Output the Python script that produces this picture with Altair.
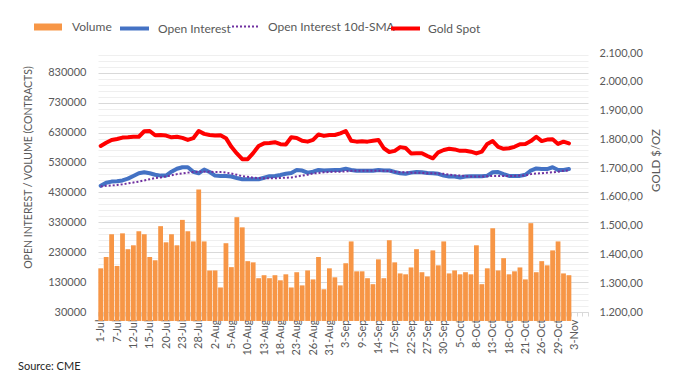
import altair as alt
import pandas as pd

# Category labels (trading days), last three have no data
dates = [
    "1-Jul", "2-Jul", "6-Jul", "7-Jul", "8-Jul", "9-Jul", "12-Jul", "13-Jul", "14-Jul", "15-Jul",
    "16-Jul", "19-Jul", "20-Jul", "21-Jul", "22-Jul", "23-Jul", "26-Jul", "27-Jul", "28-Jul", "29-Jul",
    "30-Jul", "2-Aug", "3-Aug", "4-Aug", "5-Aug", "6-Aug", "9-Aug", "10-Aug", "11-Aug", "12-Aug",
    "13-Aug", "16-Aug", "17-Aug", "18-Aug", "19-Aug", "20-Aug", "23-Aug", "24-Aug", "25-Aug", "26-Aug",
    "27-Aug", "30-Aug", "31-Aug", "1-Sep", "2-Sep", "3-Sep", "7-Sep", "8-Sep", "9-Sep", "10-Sep",
    "13-Sep", "14-Sep", "15-Sep", "16-Sep", "17-Sep", "20-Sep", "21-Sep", "22-Sep", "23-Sep", "24-Sep",
    "27-Sep", "28-Sep", "29-Sep", "30-Sep", "1-Oct", "4-Oct", "5-Oct", "6-Oct", "7-Oct", "8-Oct",
    "11-Oct", "12-Oct", "13-Oct", "14-Oct", "15-Oct", "18-Oct", "19-Oct", "20-Oct", "21-Oct", "22-Oct",
    "25-Oct", "26-Oct", "27-Oct", "28-Oct", "29-Oct", "1-Nov", "2-Nov", "3-Nov", "4-Nov", "5-Nov",
]

volume = [
    176000, 214000, 290000, 184000, 293000, 240000, 253000, 300000, 290000, 214000,
    203000, 317000, 263000, 290000, 253000, 338000, 300000, 266000, 440000, 266000,
    169000, 169000, 112000, 260000, 180000, 347000, 313000, 200000, 196000, 143000,
    153000, 143000, 153000, 136000, 156000, 112000, 163000, 119000, 169000, 139000,
    214000, 106000, 176000, 146000, 119000, 193000, 266000, 166000, 166000, 143000,
    123000, 206000, 143000, 270000, 196000, 159000, 156000, 179000, 240000, 163000,
    149000, 236000, 186000, 266000, 159000, 169000, 156000, 163000, 156000, 253000,
    123000, 176000, 310000, 169000, 210000, 156000, 166000, 179000, 139000, 327000,
    163000, 200000, 186000, 236000, 266000, 159000, 153000,
]

open_interest = [
    452000, 462000, 466000, 467000, 470000, 476000, 485000, 494000, 497000, 494000,
    489000, 486000, 486000, 499000, 509000, 514000, 514000, 499000, 494000, 506000,
    498000, 486000, 485000, 485000, 483000, 478000, 474000, 474000, 474000, 474000,
    479000, 484000, 485000, 488000, 492000, 495000, 505000, 503000, 496000, 499000,
    505000, 503000, 504000, 505000, 505000, 509000, 505000, 502000, 502000, 502000,
    502000, 505000, 503000, 503000, 498000, 494000, 492000, 496000, 498000, 497000,
    495000, 494000, 492000, 486000, 483000, 483000, 480000, 483000, 484000, 484000,
    484000, 486000, 497000, 498000, 491000, 485000, 485000, 485000, 489000, 503000,
    510000, 508000, 508000, 514000, 505000, 505000, 508000,
]

oi_sma = [
    450000, 452000, 453000, 455000, 457000, 460000, 463000, 466000, 470000, 474000,
    478000, 480000, 483000, 487000, 491000, 493000, 496000, 498000, 499000, 499000,
    499000, 498000, 498000, 496000, 493000, 489000, 484000, 482000, 479000, 478000,
    477000, 477000, 477000, 478000, 479000, 480000, 483000, 486000, 489000, 493000,
    495000, 497000, 498000, 499000, 499000, 500000, 502000, 502000, 502000, 502000,
    502000, 502000, 502000, 501000, 499000, 497000, 497000, 496000, 496000, 495000,
    494000, 494000, 493000, 492000, 489000, 487000, 486000, 484000, 483000, 483000,
    483000, 484000, 485000, 485000, 485000, 485000, 485000, 486000, 487000, 491000,
    493000, 494000, 496000, 497000, 499000, 502000, 503000,
]

gold = [
    1777, 1788, 1798, 1801, 1806, 1807, 1809, 1809, 1828, 1829,
    1814, 1815, 1813, 1807, 1809, 1805, 1798, 1804, 1829, 1819,
    1815, 1813, 1814, 1804, 1774, 1751, 1731, 1731, 1752, 1777,
    1786, 1787, 1790, 1783, 1782, 1807, 1805, 1795, 1792, 1798,
    1817, 1812, 1815, 1815, 1821, 1829, 1795, 1792, 1793, 1792,
    1795, 1798, 1769, 1756, 1760, 1773, 1770, 1751, 1752, 1752,
    1742, 1734, 1755, 1763, 1767, 1765, 1760, 1760, 1757, 1751,
    1757, 1784, 1794, 1774, 1767, 1769, 1774, 1783, 1784, 1794,
    1809, 1794, 1799, 1800, 1784, 1792, 1786,
]

series_names = ["Volume", "Open Interest", "Open Interest 10d-SMA", "Gold Spot"]

left_ticks = list(range(30000, 896001, 20000))
right_ticks = list(range(1200, 2101, 100))

n_data = len(volume)
df = pd.DataFrame({
    "date": dates[:n_data],
    "volume": volume,
    "oi": open_interest,
    "sma": oi_sma,
    "gold": gold,
})

ORANGE = "#F79646"
BLUE = "#4472C4"
PURPLE = "#7030A0"
RED = "#FF0000"
TXT = "#595959"
FONT = "Lato"

n_cat = len(dates)
x_axis = alt.Axis(
    title=None, labelAngle=270, labelAlign="right", labelBaseline="middle",
    labelExpr=f"round(datum.index * {n_cat - 1}) % 3 == 0 ? datum.label : ''",
    labelOverlap=False, labelFontSize=11, labelColor=TXT, labelFont=FONT,
    labelPadding=3, tickBand="extent", tickSize=4, tickColor="#d9d9d9",
    domainColor="#d9d9d9", grid=False,
)
x_enc = alt.X("date:N", sort=None,
              scale=alt.Scale(domain=dates, paddingInner=0.12, paddingOuter=0.06),
              axis=x_axis)

left_scale = alt.Scale(domain=[30000, 896000], nice=False, zero=False)
left_axis = alt.Axis(
    values=left_ticks,
    labelExpr="(datum.value - 30000) % 100000 == 0 ? '' + datum.value : ''",
    labelFontSize=11, labelColor=TXT, labelFont=FONT, labelPadding=12,
    ticks=False, domain=False, grid=True,
    gridColor={"condition": {"test": "(datum.value - 30000) % 100000 == 0", "value": "#d9d9d9"},
               "value": "#efefef"},
    gridWidth=1,
    title="OPEN INTEREST / VOLUME (CONTRACTS)", titleFontSize=10.5, titleFont=FONT,
    titleColor=TXT, titleFontWeight="normal", titleAngle=270,
    titleX=-70, titleY=114, titleAlign="center", titleBaseline="middle",
)

right_scale = alt.Scale(domain=[1200, 2100], nice=False, zero=False)
right_axis = alt.Axis(
    orient="right", values=right_ticks,
    labelExpr="replace(replace(replace(format(datum.value, ',.2f'), ',', '#'), '.', ','), '#', '.')",
    labelFontSize=11, labelColor=TXT, labelFont=FONT, labelPadding=11,
    ticks=False, domain=False, grid=False,
    title="GOLD $/OZ", titleFontSize=11.5, titleFont=FONT, titleColor=TXT,
    titleFontWeight="normal", titleAngle=270, titleX=68, titleY=107,
    titleAlign="center", titleBaseline="middle",
)


def legend(x, sym, size, stroke_w=None, dash=None, offset=10):
    kw = dict(orient="none", legendX=x, legendY=-41, title=None, symbolType=sym,
              symbolSize=size, labelFontSize=12, labelFont=FONT, labelColor=TXT,
              labelOffset=offset, padding=0)
    if stroke_w is not None:
        kw["symbolStrokeWidth"] = stroke_w
    if dash is not None:
        kw["symbolDash"] = dash
    return alt.Legend(**kw)


def series_color(name, color, leg):
    return alt.Color("series:N", scale=alt.Scale(domain=[name], range=[color]), legend=leg)


base = alt.Chart(df)

bars = base.mark_bar().transform_calculate(series=f"'{series_names[0]}'").encode(
    x=x_enc,
    y=alt.Y("volume:Q", scale=left_scale, axis=left_axis),
    color=series_color(series_names[0], ORANGE, legend(-65, "M-1,-0.25H1V0.25H-1Z", 784, offset=9)),
)

oi_line = base.mark_line(strokeWidth=4, strokeCap="round", strokeJoin="round").transform_calculate(
    series=f"'{series_names[1]}'").encode(
    x=x_enc,
    y=alt.Y("oi:Q", scale=left_scale, axis=left_axis),
    color=series_color(series_names[1], BLUE, legend(20, "stroke", 841, stroke_w=4, offset=7)),
)

sma_line = base.mark_line(strokeWidth=2, strokeDash=[2, 2]).transform_calculate(
    series=f"'{series_names[2]}'").encode(
    x=x_enc,
    y=alt.Y("sma:Q", scale=left_scale, axis=left_axis),
    color=series_color(series_names[2], PURPLE,
                       legend(133, "stroke", 729, stroke_w=2, dash=[2, 2], offset=8)),
)

gold_line = base.mark_line(strokeWidth=4, strokeCap="round", strokeJoin="round").transform_calculate(
    series=f"'{series_names[3]}'").encode(
    x=x_enc,
    y=alt.Y("gold:Q", scale=right_scale, axis=right_axis),
    color=series_color(series_names[3], RED, legend(291, "stroke", 841, stroke_w=4, offset=6)),
)

left_layer = alt.layer(bars, oi_line, sma_line).resolve_scale(color="independent")

chart = alt.layer(left_layer, gold_line).resolve_scale(
    y="independent", color="independent"
).properties(
    width=490, height=259,
    autosize=alt.AutoSizeParams(type="none"),
    padding={"left": 90, "top": 45, "right": 81, "bottom": 67},
    background="white",
    title=alt.TitleParams("Source: CME", orient="bottom", anchor="start", frame="bounds",
                          fontSize=11, font=FONT, color="#262626", fontWeight="normal",
                          offset=6, dx=-5),
).configure_view(stroke=None)

chart.save("out.html", embed_options={"renderer": "svg", "actions": False})
